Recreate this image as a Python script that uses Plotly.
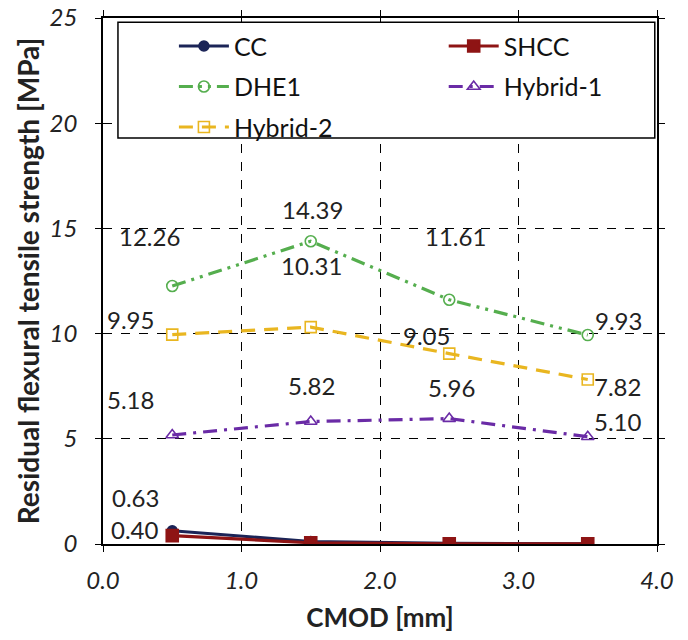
import plotly.graph_objects as go

cmod = [0.5, 1.5, 2.5, 3.5]
cc = [0.63, 0.12, 0.03, 0.01]
shcc = [0.40, 0.06, 0.01, 0.01]
dhe1 = [12.26, 14.39, 11.61, 9.93]
hyb1 = [5.18, 5.82, 5.96, 5.10]
hyb2 = [9.95, 10.31, 9.05, 7.82]

x_ticks = [0, 1, 2, 3, 4]
y_ticks = [0, 5, 10, 15, 20, 25]

FONT = "Lato"
fig = go.Figure()

series = [
    ("CC", cc, "#1B2457", "solid", "circle", "legend", 10),
    ("DHE1", dhe1, "#55AE4E", "14px,6px,3px,6px,3px,6px", "circle-open", "legend", 11),
    ("Hybrid-2", hyb2, "#E9B620", "14px,9px", "square-open", "legend", 11),
    ("SHCC", shcc, "#8E1414", "solid", "square", "legend2", 12),
    ("Hybrid-1", hyb1, "#6A2BA6", "14px,7px,3px,7px", "triangle-up-open", "legend2", 11),
]
for i, (name, ys, col, dash, sym, leg, ms) in enumerate(series):
    fig.add_trace(go.Scatter(
        x=cmod, y=ys, name=name, mode="lines+markers",
        line=dict(color=col, width=3.2, dash=dash),
        marker=dict(symbol=sym, size=ms, color=col, line=dict(color=col, width=1.6)),
        legend=leg, legendgroup=name,
    ))

# data label offsets (pixels) for each series point
label_sets = [
    (cc, [(-37, 33)]),
    (shcc, [(-37, 6)]),
    (dhe1, [(-23, 50), (2, 32), (6, 63), (31, 15)]),
    (hyb2, [(-42, 15), (1, 62), (-23, 18), (30, -7)]),
    (hyb1, [(-42, 36), (1, 36), (2, 31), (30, 15)]),
]
for ys, offs in label_sets:
    for j, (dx, dy) in enumerate(offs):
        fig.add_annotation(x=cmod[j], y=ys[j], text=f"{ys[j]:.2f}", showarrow=False,
                           xshift=dx, yshift=dy, font=dict(family=FONT, size=24, color="#222"))

# legend box
fig.add_shape(type="rect", xref="paper", yref="paper", x0=0.027, x1=0.996, y0=0.772, y1=0.992,
              line=dict(color="black", width=1.5), fillcolor="white", layer="above")

fig.update_layout(
    width=688, height=640,
    margin=dict(l=103, r=31, t=18, b=96),
    paper_bgcolor="white", plot_bgcolor="white",
    font=dict(family=FONT, color="#222"),
    legend=dict(x=0.128, y=0.99, xanchor="left", yanchor="top", bgcolor="rgba(0,0,0,0)",
                font=dict(family=FONT, size=25, color="#111"), tracegroupgap=5, itemwidth=50),
    legend2=dict(x=0.615, y=0.99, xanchor="left", yanchor="top", bgcolor="rgba(0,0,0,0)",
                 font=dict(family=FONT, size=25, color="#111"), tracegroupgap=5, itemwidth=50),
    xaxis=dict(range=[0, 4], tickvals=x_ticks, tickformat=".1f", automargin=False,
               showline=True, linecolor="black", linewidth=1.5, mirror="ticks",
               ticks="outside", ticklen=6, tickcolor="black", ticklabelstandoff=8,
               ticklabeloverflow="allow",
               showgrid=True, gridcolor="black", griddash="dash", gridwidth=1,
               zeroline=False,
               tickfont=dict(family=FONT, size=24, style="italic", color="#222"),
               title=dict(text="<b>CMOD [mm]</b>", font=dict(family=FONT, size=26, color="#222"), standoff=16)),
    yaxis=dict(range=[0, 25], tickvals=y_ticks, automargin=False,
               showline=True, linecolor="black", linewidth=1.5, mirror="ticks",
               ticks="outside", ticklen=6, tickcolor="black", ticklabelstandoff=13,
               ticklabeloverflow="allow",
               showgrid=True, gridcolor="black", griddash="dash", gridwidth=1,
               zeroline=False,
               tickfont=dict(family=FONT, size=24, style="italic", color="#222"),
               title=dict(text="<b>Residual flexural tensile strength [MPa]</b>",
                          font=dict(family=FONT, size=28, color="#222"), standoff=2)),
)

fig.write_html("out.html", config={"displayModeBar": False},
               post_script="document.body.style.margin='0';")
